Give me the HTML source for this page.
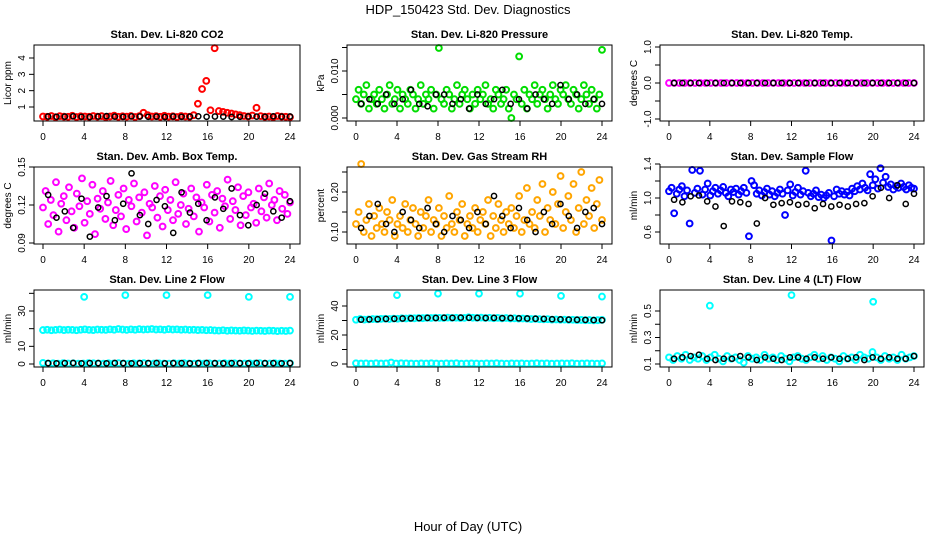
<!DOCTYPE html>
<html><head><meta charset="utf-8"><title>HDP_150423 Std. Dev. Diagnostics</title>
<style>
html,body{margin:0;padding:0;background:#fff;}
svg{display:block;font-family:"Liberation Sans",Arial,sans-serif;}
</style></head>
<body>
<svg id="chart" width="936" height="540" viewBox="0 0 936 540" xmlns="http://www.w3.org/2000/svg">
<text x="468" y="14" text-anchor="middle" font-size="13">HDP_150423  Std. Dev. Diagnostics</text>
<text x="468" y="531" text-anchor="middle" font-size="13">Hour of Day (UTC)</text>
</svg>
<script>
// ---- data ----
const xTicks = [0,4,8,12,16,20,24];
const titles = ["Stan. Dev. Li-820 CO2","Stan. Dev. Li-820 Pressure","Stan. Dev. Li-820 Temp.","Stan. Dev. Amb. Box Temp.","Stan. Dev. Gas Stream RH","Stan. Dev. Sample Flow","Stan. Dev. Line 2 Flow","Stan. Dev. Line 3 Flow","Stan. Dev. Line 4 (LT) Flow"];
const yTitles = ["Licor ppm","kPa","degrees C","degrees C","percent","ml/min","ml/min","ml/min","ml/min"];

const co2Red = [0.42,0.4,0.45,0.38,0.44,0.41,0.4,0.46,0.39,0.43,0.42,0.4,0.45,0.41,0.44,0.38,0.42,0.47,0.4,0.43,0.41,0.45,0.39,0.44,0.65,0.5,0.42,0.44,0.4,0.46,0.41,0.43,0.39,0.45,0.42,0.4,0.5,1.2,2.1,2.6,0.8,4.6,0.75,0.7,0.65,0.6,0.55,0.5,0.45,0.42,0.48,0.95,0.44,0.4,0.42,0.38,0.45,0.41,0.4,0.38];
const co2Black = [0.42,0.4,0.41,0.43,0.4,0.39,0.42,0.44,0.41,0.4,0.43,0.42,0.4,0.41,0.39,0.42,0.4,0.41,0.43,0.4,0.42,0.41,0.39,0.4,0.42,0.41,0.4,0.43,0.41,0.42];

const presGreen = [.004,.006,.003,.005,.007,.002,.004,.005,.003,.006,.004,.002,.005,.007,.003,.004,.006,.002,.005,.004,.003,.006,.005,.002,.004,.007,.003,.005,.004,.006,.002,.005,.0149,.004,.003,.006,.005,.002,.004,.007,.003,.005,.006,.004,.002,.005,.003,.006,.004,.005,.007,.003,.004,.002,.006,.005,.003,.004,.006,.002,.000,.005,.004,.0131,.003,.006,.002,.005,.004,.007,.003,.005,.006,.004,.002,.005,.007,.004,.003,.006,.005,.007,.004,.003,.006,.005,.002,.004,.007,.005,.003,.006,.004,.002,.005,.0145];
const presBlack = [.003,.004,.003,.005,.003,.004,.006,.003,.0025,.005,.005,.003,.004,.002,.005,.003,.004,.006,.003,.004,.002,.005,.004,.003,.007,.004,.005,.003,.004,.003];

const tempMag = [0,0,0,0,0,0,0,0,0,0,0,0,0,0,0,0,0,0,0,0,0,0,0,0,0,0,0,0,0,0,0,0,0,0,0,0,0,0,0,0,0,0,0,0,0,0,0,0];
const tempBlack = [0,0,0,0,0,0,0,0,0,0,0,0,0,0,0,0,0,0,0,0,0,0,0,0,0,0,0,0,0,0];

const boxMag = [.118,.131,.105,.124,.112,.138,.099,.121,.127,.108,.134,.115,.102,.129,.119,.141,.106,.123,.113,.136,.097,.125,.117,.131,.109,.122,.139,.104,.116,.128,.111,.133,.101,.124,.119,.137,.107,.126,.114,.130,.096,.121,.118,.135,.110,.127,.103,.132,.116,.124,.108,.138,.113,.120,.129,.105,.117,.133,.111,.126,.099,.122,.118,.136,.107,.128,.114,.131,.102,.125,.119,.140,.109,.123,.116,.134,.104,.127,.112,.130,.118,.121,.106,.133,.115,.126,.110,.137,.120,.124,.108,.131,.117,.128,.113,.122];
const boxBlack = [.128,.11,.115,.102,.125,.095,.118,.127,.108,.121,.145,.112,.105,.124,.119,.098,.13,.114,.121,.108,.126,.117,.133,.112,.104,.12,.129,.115,.11,.123];

const rhOrange = [.12,.15,.27,.10,.13,.17,.09,.14,.11,.16,.12,.10,.15,.13,.18,.09,.12,.14,.11,.17,.10,.13,.16,.12,.09,.15,.11,.14,.18,.10,.13,.12,.16,.09,.14,.11,.19,.12,.10,.15,.13,.17,.09,.12,.14,.11,.16,.10,.13,.15,.12,.18,.09,.14,.11,.17,.13,.10,.15,.12,.16,.11,.14,.19,.10,.13,.21,.12,.15,.11,.18,.14,.22,.10,.16,.13,.20,.12,.17,.24,.11,.15,.19,.13,.22,.10,.16,.25,.12,.18,.14,.21,.11,.17,.23,.13];
const rhBlack = [.11,.14,.17,.12,.10,.15,.13,.11,.16,.12,.10,.14,.13,.11,.15,.12,.19,.14,.11,.16,.13,.10,.15,.12,.17,.14,.11,.15,.16,.12];

const flowBlue = [1.08,1.12,0.82,1.05,1.1,1.14,1.02,1.09,0.7,1.33,1.06,1.11,1.32,1.04,1.1,1.17,1.03,1.08,1.12,1.05,1.09,1.13,1.06,1.02,1.1,1.07,1.11,1.04,1.08,1.12,1.06,0.55,1.2,1.15,1.05,1.09,1.03,1.07,1.11,1.04,1.08,1.02,1.06,1.1,1.05,0.8,1.09,1.16,1.03,1.07,1.12,1.04,1.08,1.32,1.06,1.02,1.05,1.09,1.01,1.04,1.0,1.03,1.06,0.5,1.02,1.1,1.05,1.08,1.04,1.07,1.03,1.11,1.08,1.14,1.1,1.17,1.12,1.09,1.28,1.15,1.22,1.11,1.35,1.18,1.25,1.13,1.16,1.1,1.14,1.12,1.17,1.13,1.1,1.15,1.12,1.11];
const flowBlack = [0.98,0.95,1.02,1.03,0.96,0.9,0.67,0.96,0.95,0.93,0.7,1.0,0.92,0.94,0.95,0.92,0.93,0.88,0.93,0.9,0.92,0.9,0.93,0.94,1.02,1.12,1.0,1.15,0.93,1.05];

const l2CyanHigh = [19.2,19.4,19.1,19.3,19.5,19.2,19.4,19.3,19.1,19.4,19.6,19.3,19.2,19.5,19.4,19.3,19.6,19.4,19.8,19.5,19.3,19.6,19.4,19.7,19.5,19.6,19.8,19.5,19.6,19.4,19.7,19.5,19.6,19.4,19.5,19.3,19.4,19.2,19.3,19.1,19.2,19.0,18.9,19.1,18.8,19.0,18.9,18.8,19.0,18.9,18.7,18.9,18.8,18.7,18.9,18.8,18.6,18.8,18.7,18.9];
const l2CyanLow = [0.6,0.3,0.4,0.2,0.5,0.3,0.4,0.2,0.3,0.5,0.4,0.3,0.2,0.4,0.3,0.5,0.3,0.2,0.4,0.3,0.5,0.2,0.3,0.4,0.3,0.2,0.4,0.3,0.5,0.3,0.2,0.4,0.3,0.4,0.2,0.3,0.5,0.3,0.4,0.2,0.3,0.4,0.3,0.5,0.2,0.3,0.4,0.3,0.2,0.4];
const l2OutX = [4,8,12,16,20,24];
const l2OutY = [38,39,39,39,38,38];
const l2Black = [0.5,0.4,0.5,0.6,0.4,0.5,0.5,0.4,0.6,0.5,0.4,0.5,0.5,0.6,0.4,0.5,0.5,0.4,0.5,0.6,0.5,0.4,0.5,0.5,0.4,0.6,0.5,0.5,0.4,0.5];

const l3CyanHigh = [30.5,31.0,30.6,30.8,31.0,30.9,31.1,31.2,31.0,31.3,31.2,31.5,31.4,31.6,31.5,31.7,31.6,31.8,31.7,31.9,31.8,31.7,32.0,31.8,31.9,31.7,31.8,32.2,31.9,31.8,32.0,31.7,31.9,31.6,31.8,31.5,31.7,31.4,31.5,31.3,31.4,31.2,31.0,31.1,30.9,30.8,30.9,30.6,30.7,30.5,30.6,30.4,30.5,30.3,30.4,30.2,30.3,30.1,30.2,30.4];
const l3CyanLow = [0.5,0.3,0.4,0.2,0.5,0.3,0.4,1.0,0.3,0.5,0.4,0.3,0.2,0.4,0.3,0.5,0.3,0.2,0.4,0.3,0.5,0.2,0.3,0.4,0.3,0.2,0.4,0.3,0.5,0.3,0.2,0.4,0.3,0.4,0.2,0.3,0.5,0.3,0.4,0.2,0.3,0.4,0.3,0.5,0.2,0.3,0.4,0.3,0.2,0.4];
const l3OutX = [4,8,12,16,20,24];
const l3OutY = [47.5,48.5,48.5,48.5,47,46.5];
const l3Black = [30.6,30.8,30.9,31.1,31.2,31.4,31.5,31.6,31.8,31.7,31.9,31.8,32.0,31.9,31.8,31.7,31.8,31.6,31.7,31.5,31.4,31.2,31.1,30.9,30.8,30.6,30.5,30.4,30.3,30.2];

const l4Cyan = [0.15,0.13,0.16,0.14,0.17,0.13,0.15,0.14,0.16,0.13,0.15,0.17,0.14,0.12,0.16,0.14,0.15,0.13,0.11,0.16,0.14,0.15,0.13,0.17,0.14,0.15,0.13,0.16,0.14,0.12,0.15,0.16,0.14,0.13,0.15,0.17,0.14,0.16,0.13,0.15,0.14,0.12,0.16,0.14,0.15,0.13,0.17,0.15,0.14,0.19,0.15,0.13,0.16,0.14,0.15,0.13,0.17,0.14,0.15,0.16];
const l4OutX = [4,12,20];
const l4OutY = [0.54,0.62,0.57];
const l4Black = [0.14,0.15,0.16,0.17,0.14,0.13,0.14,0.14,0.16,0.15,0.13,0.15,0.14,0.13,0.15,0.15,0.14,0.15,0.14,0.15,0.14,0.14,0.15,0.13,0.15,0.14,0.15,0.14,0.14,0.16];

// ---- layout ----
const NS = "http://www.w3.org/2000/svg";
const svg = document.getElementById("chart");
const cols = [[34,300],[347,612],[660,924]];
const rows = [[45,121],[167,244],[290,367]];
const cal = [[1,107,4,58],[0,118,0.01,71],[0,83,1,47],[0.09,243,0.15,167],[0.1,232,0.2,192],[0.6,232,1.4,164],[0,364,30,311],[0,364,40,306],[0.1,364,0.5,311]];
const ticks = [
 [[1,"1"],[2,"2"],[3,"3"],[4,"4"]],
 [[0,"0.000"],[0.005,""],[0.01,"0.010"],[0.015,""]],
 [[-1,"-1.0"],[-0.5,""],[0,"0.0"],[0.5,""],[1,"1.0"]],
 [[0.09,"0.09"],[0.12,"0.12"],[0.15,"0.15"]],
 [[0.1,"0.10"],[0.15,""],[0.2,"0.20"],[0.25,""]],
 [[0.6,"0.6"],[0.8,""],[1.0,"1.0"],[1.2,""],[1.4,"1.4"]],
 [[0,"0"],[10,"10"],[20,""],[30,"30"],[40,""]],
 [[0,"0"],[10,""],[20,"20"],[30,""],[40,"40"]],
 [[0.1,"0.1"],[0.2,""],[0.3,"0.3"],[0.4,""],[0.5,"0.5"]]
];
const seriesSets = [
 [[co2Red,null,"#ff0000"],[co2Black,null,"#000"]],
 [[presGreen,null,"#00dd00"],[presBlack,null,"#000"]],
 [[tempMag,null,"#ff00ff"],[tempBlack,null,"#000"]],
 [[boxMag,null,"#ff00ff"],[boxBlack,null,"#000"]],
 [[rhOrange,null,"#ffa500"],[rhBlack,null,"#000"]],
 [[flowBlue,null,"#0000ff"],[flowBlack,null,"#000"]],
 [[l2CyanHigh,null,"#00ffff"],[l2CyanLow,null,"#00ffff"],[l2OutY,l2OutX,"#00ffff"],[l2Black,null,"#000"]],
 [[l3CyanHigh,null,"#00ffff"],[l3CyanLow,null,"#00ffff"],[l3OutY,l3OutX,"#00ffff"],[l3Black,null,"#000"]],
 [[l4Cyan,null,"#00ffff"],[l4OutY,l4OutX,"#00ffff"],[l4Black,null,"#000"]]
];

function mk(tag, attrs, parent){const e=document.createElementNS(NS,tag);for(const k in attrs)e.setAttribute(k,attrs[k]);(parent||svg).appendChild(e);return e;}

for(let p=0;p<9;p++){
  const [L,R]=cols[p%3], [T,B]=rows[Math.floor(p/3)];
  const g=mk("g",{});
  
  
  const xs=v=>(L+9)+v*((R-10)-(L+9))/24;
  const c=cal[p];
  const ys=v=>c[1]+(v-c[0])*(c[3]-c[1])/(c[2]-c[0]);
  const t=mk("text",{x:(L+R)/2,y:T-7,"text-anchor":"middle","font-size":"11","font-weight":"bold"},g);
  t.textContent=titles[p];
  
  
  const xa=mk("g",{},g);
  
  
  mk("line",{x1:xs(0),x2:xs(24),y1:B,y2:B,stroke:"#000"},xa);
  xTicks.forEach(v=>{
    mk("line",{x1:xs(v),x2:xs(v),y1:B,y2:B+5,stroke:"#000"},xa);
    const tl=mk("text",{x:xs(v),y:B+19,"text-anchor":"middle","font-size":"10"},xa);
    tl.textContent=v;
    
    
  });
  const ya=mk("g",{},g);
  
  
  const tk=ticks[p];
  mk("line",{x1:L,x2:L,y1:ys(tk[0][0]),y2:ys(tk[tk.length-1][0]),stroke:"#000"},ya);
  tk.forEach(([v,lab])=>{
    const y=ys(v);
    mk("line",{x1:L-5,x2:L,y1:y,y2:y,stroke:"#000"},ya);
    if(lab){
      const tl=mk("text",{x:L-9,y:y,"text-anchor":"middle","font-size":"10",transform:`rotate(-90 ${L-9} ${y})`},ya);
      tl.textContent=lab;
      
      
    }
  });
  const yt=mk("text",{x:L-23,y:(T+B)/2,"text-anchor":"middle","font-size":"10",transform:`rotate(-90 ${L-23} ${(T+B)/2})`},g);
  yt.textContent=yTitles[p];
  
  
  seriesSets[p].forEach(([vals,xv,col])=>{
    const black = col==="#000";
    const sg=mk("g",{fill:"none",stroke:col,"stroke-width":black?"1.5":"2"},g);
    
    
    vals.forEach((v,i)=>{
      const hx = xv ? xv[i] : (black ? 0.5+i*23.5/(vals.length-1) : i*24/(vals.length-1));
      const cc=mk("circle",{cx:xs(hx),cy:ys(v),r:black?2.6:2.9},sg);
      
      
    });
  });
  const bx=mk("rect",{x:L,y:T,width:R-L,height:B-T,fill:"none",stroke:"#000"},g);
  
  
}
</script>
</body></html>
